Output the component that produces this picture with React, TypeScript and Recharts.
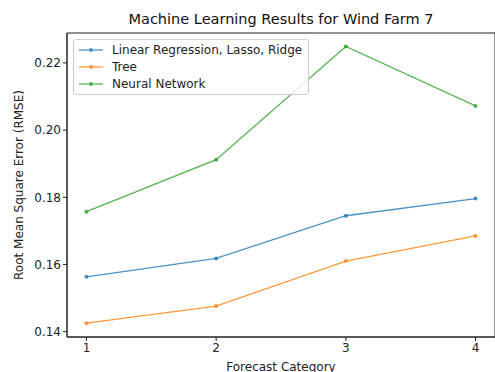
import { Line, LineChart, ReferenceArea, XAxis, YAxis } from "recharts";

const categories = [1, 2, 3, 4];
const linearRidge = [0.1563, 0.1618, 0.1745, 0.1796];
const tree = [0.1425, 0.1476, 0.161, 0.1685];
const neuralNet = [0.1757, 0.1912, 0.2249, 0.2072];
const xTicks = [1, 2, 3, 4];
const yTicks = [0.14, 0.16, 0.18, 0.2, 0.22];

const series = [
  { key: "lin", name: "Linear Regression, Lasso, Ridge", color: "#1f77b4" },
  { key: "tree", name: "Tree", color: "#ff7f0e" },
  { key: "nn", name: "Neural Network", color: "#2ca02c" },
];

const data = categories.map((c, i) => ({ cat: c, lin: linearRidge[i], tree: tree[i], nn: neuralNet[i] }));

const font = "'DejaVu Sans', sans-serif";
const tick = { fontSize: 12, fill: "#222", fontFamily: font };
const xDomain: [number, number] = [0.85, 4.15];
const yDomain: [number, number] = [0.1384, 0.2289];

function LegendBox() {
  return (
    <div style={{ position: "absolute", left: 73, top: 39, border: "1px solid #ccc", borderRadius: 3, background: "rgba(255,255,255,.8)", padding: "2px 6px 2px 5px", fontFamily: font, fontSize: 12, color: "#222" }}>
      {series.map((s) => (
        <div key={s.key} style={{ display: "flex", alignItems: "center", height: 16.7 }}>
          <svg width={24} height={8} style={{ marginRight: 9, opacity: 0.8 }}>
            <line x1={0} y1={4} x2={24} y2={4} stroke={s.color} strokeWidth={1.3} />
            <circle cx={12} cy={4} r={2} fill={s.color} />
          </svg>
          <span>{s.name}</span>
        </div>
      ))}
    </div>
  );
}

export default function App() {
  return (
    <div style={{ position: "absolute", left: 0, top: 0, width: 495, height: 372, background: "#fff", overflow: "hidden" }}>
      <div style={{ position: "absolute", top: 11, left: 67, width: 428, textAlign: "center", fontFamily: font, fontSize: 14.5, color: "#111" }}>
        Machine Learning Results for Wind Farm 7
      </div>
      <LineChart width={496} height={372} data={data} margin={{ top: 33, right: 1, bottom: 5, left: 0 }}>
        <XAxis
          dataKey="cat"
          type="number"
          domain={xDomain}
          ticks={xTicks}
          allowDataOverflow
          height={30}
          tick={tick}
          tickLine={{ stroke: "#222" }}
          tickSize={4}
          axisLine={{ stroke: "#222" }}
          label={{ value: "Forecast Category", position: "insideBottom", offset: -4, style: { fontSize: 12, fill: "#222", fontFamily: font } }}
        />
        <YAxis
          type="number"
          domain={yDomain}
          ticks={yTicks}
          allowDataOverflow
          width={67}
          tick={tick}
          tickLine={{ stroke: "#222" }}
          tickSize={4}
          axisLine={{ stroke: "#222" }}
          tickFormatter={(v: number) => v.toFixed(2)}
          label={{ value: "Root Mean Square Error (RMSE)", angle: -90, position: "insideLeft", offset: 19, style: { textAnchor: "middle", fontSize: 12, fill: "#222", fontFamily: font } }}
        />
        <ReferenceArea x1={xDomain[0]} x2={xDomain[1]} y1={yDomain[0]} y2={yDomain[1]} fill="none" stroke="#222" strokeWidth={1} />
        {series.map((s) => (
          <Line
            key={s.key}
            dataKey={s.key}
            name={s.name}
            stroke={s.color}
            strokeOpacity={0.8}
            strokeWidth={1.3}
            dot={{ r: 2, fill: s.color, stroke: "none", fillOpacity: 0.8 }}
            activeDot={false}
            isAnimationActive={false}
          />
        ))}
      </LineChart>
      <LegendBox />
    </div>
  );
}
